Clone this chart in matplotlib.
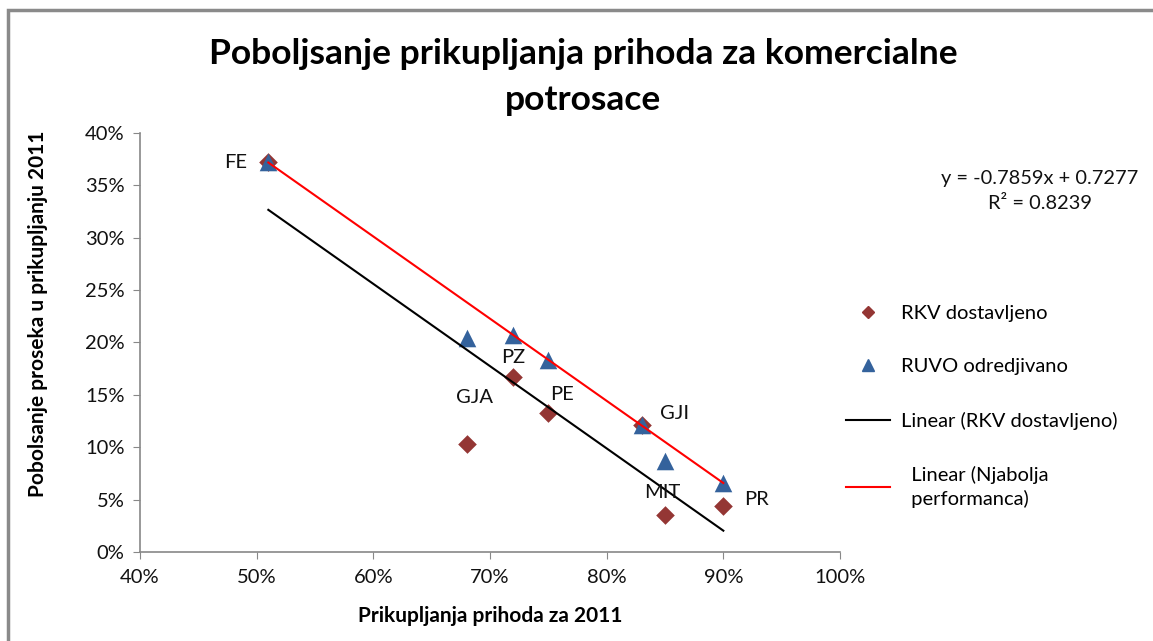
import numpy as np
import matplotlib
matplotlib.use("Agg")
import matplotlib.pyplot as plt
from matplotlib.lines import Line2D
from matplotlib.patches import Rectangle
from matplotlib.ticker import PercentFormatter, MultipleLocator

plt.rcParams['font.family'] = ['Lato', 'DejaVu Sans']

# ---- data ----
labels = ["FE", "GJA", "PZ", "PE", "GJI", "MIT", "PR"]
x_collect = [0.51, 0.68, 0.72, 0.75, 0.83, 0.85, 0.90]
rkv = [0.372, 0.103, 0.167, 0.133, 0.121, 0.035, 0.044]
ruvo = [0.372, 0.204, 0.207, 0.183, 0.121, 0.087, 0.066]
# hidden "best performance" series (trend only)
best_x = [0.51, 0.72, 0.75, 0.83, 0.90]
best_y = [0.372, 0.207, 0.183, 0.121, 0.066]

title = "Poboljsanje prikupljanja prihoda za komercialne\npotrosace"
xlabel = "Prikupljanja prihoda za 2011"
ylabel = "Pobolsanje proseka u prikupljanju 2011"
equation_text = "y = -0.7859x + 0.7277\nR² = 0.8239"

c_rkv = "#943634"
c_ruvo = "#34629C"

fig = plt.figure(figsize=(11.53, 6.41), dpi=100)
ax = fig.add_axes([140/1153, 1-552/641, 700/1153, 419/641])

# trend lines
xs = np.array([min(x_collect), max(x_collect)])
k1, b1 = np.polyfit(x_collect, rkv, 1)
k2, b2 = np.polyfit(best_x, best_y, 1)
xb = np.array([min(best_x), max(best_x)])

ax.scatter(x_collect, rkv, marker="D", s=90, color=c_rkv, zorder=3, linewidths=0)
ax.scatter(x_collect, ruvo, marker="^", s=160, color=c_ruvo, zorder=4, linewidths=0)
ax.plot(xs, k1 * xs + b1, color="black", lw=1.5, zorder=5)
ax.plot(xb, k2 * xb + b2, color="#FF0000", lw=1.5, zorder=5)

# data labels
offsets = {"FE": (-33, 0), "GJA": (8, 47), "PZ": (0, 20), "PE": (14, 18),
           "GJI": (33, 12), "MIT": (-3, 23), "PR": (33, 6)}
for lab, xv, yv in zip(labels, x_collect, rkv):
    dx, dy = offsets[lab]
    ax.annotate(lab, (xv, yv), xytext=(dx, dy), textcoords="offset pixels",
                ha="center", va="center", fontsize=14.5, color="#111111", zorder=6)

ax.set_xlim(0.40, 1.00)
ax.set_ylim(0.0, 0.40)
ax.xaxis.set_major_locator(MultipleLocator(0.10))
ax.yaxis.set_major_locator(MultipleLocator(0.05))
ax.xaxis.set_major_formatter(PercentFormatter(1.0, decimals=0))
ax.yaxis.set_major_formatter(PercentFormatter(1.0, decimals=0))
for s in ["top", "right"]:
    ax.spines[s].set_visible(False)
for s in ["left", "bottom"]:
    ax.spines[s].set_color("#888888")
    ax.spines[s].set_linewidth(1.2)
ax.tick_params(axis="both", direction="out", length=5, color="#888888",
               labelsize=14.5, labelcolor="#111111")
ax.tick_params(axis="x", pad=7)
ax.tick_params(axis="y", pad=6)

ax.set_xlabel(xlabel, fontsize=15, fontweight="bold", color="#000000")
ax.set_ylabel(ylabel, fontsize=15, fontweight="bold", color="#000000")
ax.xaxis.set_label_coords(0.5, -(616 - 552) / 419)
ax.yaxis.set_label_coords((38 - 140) / 700, (552 - 314) / 419)
ax.xaxis.label.set_va("center")
ax.yaxis.label.set_va("center")

fig.text(583/1153, 1-77/641, title, ha="center", va="center", fontsize=25.5,
         fontweight="bold", linespacing=1.5, color="#000000")

fig.text(1040/1153, 1-191/641, equation_text,
         ha="center", va="center", fontsize=14.4, linespacing=1.6, color="#111111")

handles = [
    Line2D([], [], marker="D", color=c_rkv, ls="none", ms=6.5),
    Line2D([], [], marker="^", color=c_ruvo, ls="none", ms=8.5),
    Line2D([], [], color="black", lw=1.5),
    Line2D([], [], color="#FF0000", lw=1.5),
]
leg_labels = ["RKV dostavljeno", "RUVO odredjivano", "Linear (RKV dostavljeno)",
              "  Linear (Njabolja\n  performanca)"]
leg = fig.legend(handles, leg_labels, loc="upper left", bbox_to_anchor=(846/1153, 1-305/641),
                 frameon=False, fontsize=14.5, handlelength=2.2, handletextpad=0.55,
                 labelspacing=1.8, borderaxespad=0, borderpad=0)
for t in leg.get_texts():
    t.set_linespacing(1.4)

fig.add_artist(Rectangle((8/1153, -0.05), 1.1, 1 - 10/641 + 0.05, transform=fig.transFigure,
                         fill=False, edgecolor="#8a8a8a", lw=2.5, clip_on=False))

fig.savefig("out.png", dpi=100)
